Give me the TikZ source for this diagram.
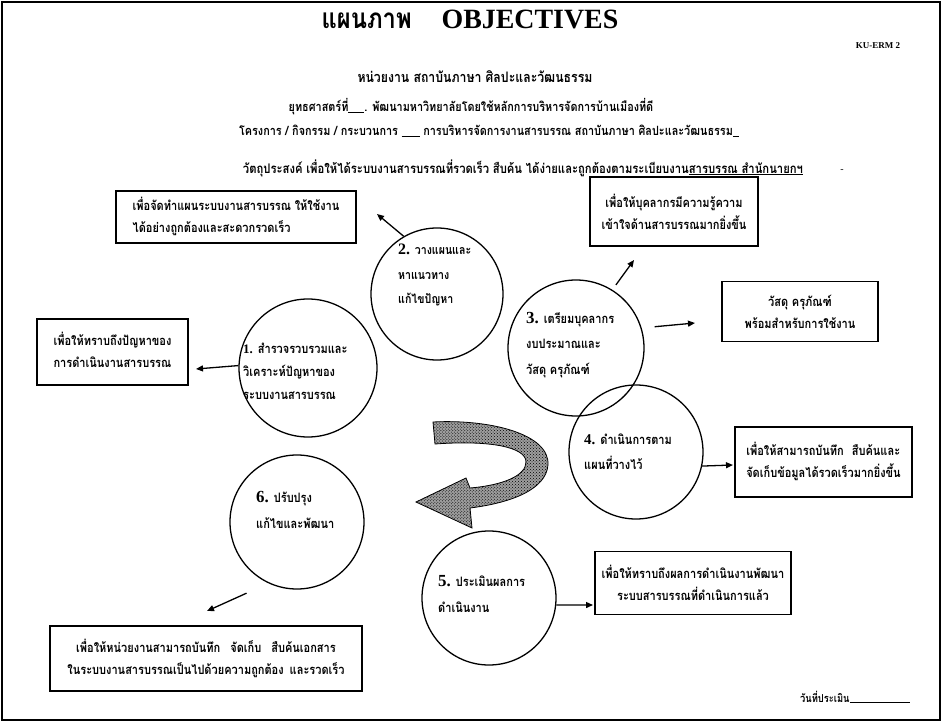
\documentclass[tikz,border=0pt]{standalone}
\usepackage{fontspec}
\setmainfont{Liberation Serif}
\newfontfamily\thf[Script=Thai,FakeStretch=0.85]{Loma}
\usetikzlibrary{arrows.meta,patterns}
\begin{document}
\begin{tikzpicture}[x=1bp,y=-1bp,
  box/.style={draw, line width=1.6bp, inner sep=0pt, align=center, font=\thf\bfseries\fontsize{13}{22}\selectfont},
  circ/.style={draw, circle, line width=1.3bp, inner sep=0pt},
  ctext/.style={align=left, anchor=west, inner sep=0pt},
  arr/.style={-{Triangle[length=7bp,width=6bp]}, line width=1.3bp},
  hdr/.style={font=\thf\bfseries\fontsize{12.8}{14}\selectfont, inner sep=0pt}]
\useasboundingbox (0,0) rectangle (942,722);
\draw[line width=1.2bp] (2,2) rectangle (940,720);
% header
\node[inner sep=0pt] (title) at (470,19) {\thf\bfseries\fontsize{28}{30}\selectfont แผนภาพ\hspace{30bp}{\rmfamily\bfseries OBJECTIVES}};
\node[inner sep=0pt] (code) at (878,46) {\rmfamily\bfseries\fontsize{9}{9}\selectfont KU-ERM 2};
\node[inner sep=0pt] (unit) at (475,77) {\thf\bfseries\fontsize{14.5}{16}\selectfont หน่วยงาน สถาบันภาษา ศิลปะและวัฒนธรรม};
\node[hdr] (strat) at (471,107) {ยุทธศาสตร์ที่\rule[-1bp]{16bp}{0.8bp}. พัฒนามหาวิทยาลัยโดยใช้หลักการบริหารจัดการบ้านเมืองที่ดี};
\node[hdr] (proj) at (489,131) {โครงการ / กิจกรรม / กระบวนการ \rule[-1bp]{18bp}{0.8bp} การบริหารจัดการงานสารบรรณ สถาบันภาษา ศิลปะและวัฒนธรรม\rule[-1bp]{6bp}{0.8bp}};
\node[hdr, font=\thf\bfseries\fontsize{13.3}{14}\selectfont] (obj) at (523,168) {วัตถุประสงค์ เพื่อให้ได้ระบบงานสารบรรณที่รวดเร็ว สืบค้น ได้ง่ายและถูกต้องตามระเบียบงาน\underline{สารบรรณ สำนักนายกฯ}};
\node[inner sep=0pt] (dash) at (842,171) {\rmfamily\fontsize{10}{10}\selectfont -};
% boxes
\node[box, minimum width=240bp, minimum height=52bp] (btl) at (236,217) {\begin{tabular}{@{}l@{}}เพื่อจัดทำแผนระบบงานสารบรรณ ให้ใช้งาน\\ได้อย่างถูกต้องและสะดวกรวดเร็ว\end{tabular}};
\node[box, minimum width=168bp, minimum height=69bp] (btr) at (674,211.5) {เพื่อให้บุคลากรมีความรู้ความ\\เข้าใจด้านสารบรรณมากยิ่งขึ้น};
\node[box, minimum width=156bp, minimum height=60bp] (br) at (800,311.5) {วัสดุ ครุภัณฑ์\\พร้อมสำหรับการใช้งาน};
\node[box, minimum width=151bp, minimum height=66bp] (bl) at (112.5,352) {\begin{tabular}{@{}l@{}}เพื่อให้ทราบถึงปัญหาของ\\การดำเนินงานสารบรรณ\end{tabular}};
\node[box, minimum width=177bp, minimum height=70bp] (brm) at (823.5,462) {\begin{tabular}{@{}l@{}}เพื่อให้สามารถบันทึก\hspace{8bp}สืบค้นและ\\จัดเก็บข้อมูลได้รวดเร็วมากยิ่งขึ้น\end{tabular}};
\node[box, minimum width=196bp, minimum height=63bp] (bbr) at (693,583) {เพื่อให้ทราบถึงผลการดำเนินงานพัฒนา\\ระบบสารบรรณที่ดำเนินการแล้ว};
\node[box, minimum width=312bp, minimum height=65bp] (bbl) at (206,658.5) {เพื่อให้หน่วยงานสามารถบันทึก\hspace{10bp}จัดเก็บ\hspace{10bp}สืบค้นเอกสาร\\ในระบบงานสารบรรณเป็นไปด้วยความถูกต้อง\hspace{6bp}และรวดเร็ว};
% circles
\node[circ, minimum size=138bp] (c1) at (308,368) {};
\node[circ, minimum size=132bp] (c2) at (437,294) {};
\node[circ, minimum size=136bp] (c3) at (576,348) {};
\node[circ, minimum size=134bp] (c4) at (636,452) {};
\node[circ, minimum size=134bp] (c5) at (489,598) {};
\node[circ, minimum size=134bp] (c6) at (297,522) {};
\node[ctext, font=\thf\bfseries\fontsize{13}{23}\selectfont] (t1) at (243,371) {{\rmfamily\bfseries\fontsize{13}{13}\selectfont 1.} สำรวจรวบรวมและ\\วิเคราะห์ปัญหาของ\\ระบบงานสารบรรณ};
\node[ctext, font=\thf\bfseries\fontsize{12.5}{25}\selectfont] (t2) at (398,275) {{\rmfamily\fontsize{16}{16}\selectfont 2.} วางแผนและ\\หาแนวทาง\\แก้ไขปัญหา};
\node[ctext, font=\thf\bfseries\fontsize{13}{26}\selectfont] (t3) at (526,345) {{\rmfamily\fontsize{17}{17}\selectfont 3.} เตรียมบุคลากร\\งบประมาณและ\\วัสดุ ครุภัณฑ์};
\node[ctext, font=\thf\bfseries\fontsize{13}{25}\selectfont] (t4) at (584,452) {{\rmfamily\bfseries\fontsize{15}{15}\selectfont 4.} ดำเนินการตาม\\แผนที่วางไว้};
\node[ctext, font=\thf\bfseries\fontsize{13}{27}\selectfont] (t5) at (438,594) {{\rmfamily\fontsize{17}{17}\selectfont 5.} ประเมินผลการ\\ดำเนินงาน};
\node[ctext, font=\thf\bfseries\fontsize{13}{26}\selectfont] (t6) at (256,510) {{\rmfamily\fontsize{17}{17}\selectfont 6.} ปรับปรุง\\แก้ไขและพัฒนา};
% arrow end points
\coordinate (h2) at (377,214);
\coordinate (h3a) at (634,260);
\coordinate (h3b) at (695,323);
\coordinate (h1) at (196,369);
\coordinate (h4) at (733,465);
\coordinate (h5) at (593,605);
\coordinate (h6) at (207,611);
\draw[arr] (c2.120) -- (h2);
\draw[arr, shorten <=6bp] (c3.58) -- (h3a);
\draw[arr, shorten <=13bp] (c3.17) -- (h3b);
\draw[arr] (c1.178) -- (h1);
\draw[arr] (c4.-12) -- (h4);
\draw[arr] (c5.-6) -- (h5);
\draw[arr, shorten <=24bp] (c6.-115) -- (h6);
% big curved arrow
\draw[line width=0.8bp, preaction={fill=black!38}, pattern=crosshatch dots]
  (433,422) .. controls (490,419) and (550,434) .. (548,465)
  .. controls (546,490) and (510,503) .. (470,508)
  -- (472,528) -- (416,502) -- (466,478) -- (470,488)
  .. controls (505,485) and (526,475) .. (526,462)
  .. controls (526,447) and (490,440) .. (435,444) -- cycle;
% date
\node[inner sep=0pt, anchor=west] (date) at (800,697) {\thf\bfseries\fontsize{11}{12}\selectfont วันที่ประเมิน\rule[-1bp]{60bp}{0.8bp}};
\end{tikzpicture}
\end{document}
